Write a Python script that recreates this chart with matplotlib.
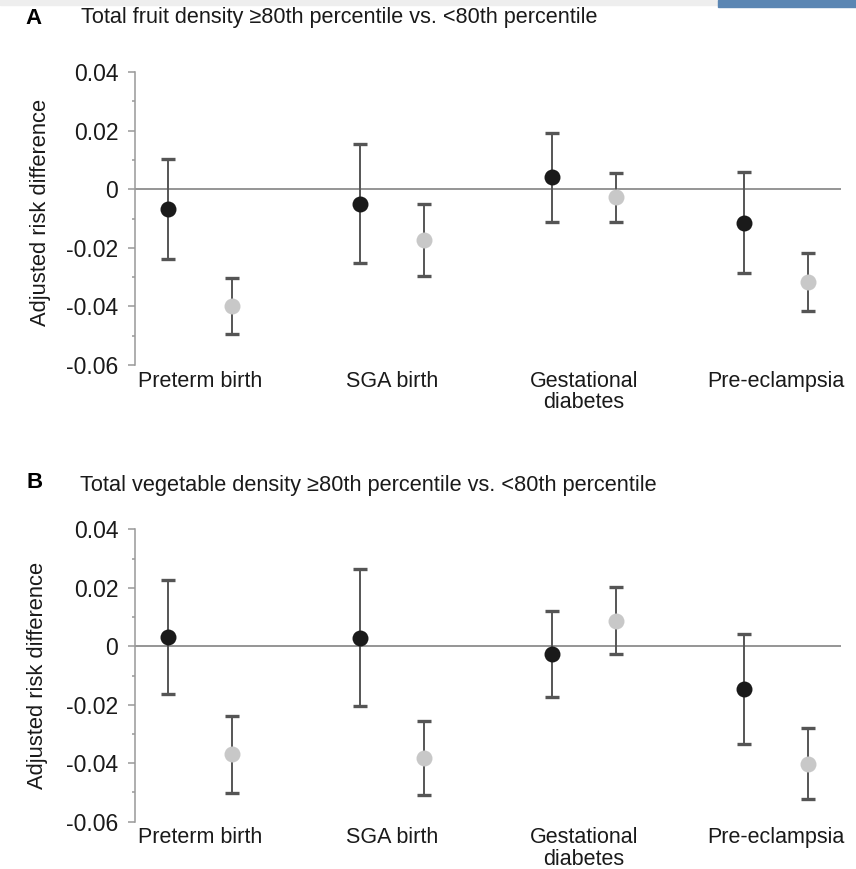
import matplotlib
matplotlib.use("Agg")
import matplotlib.pyplot as plt
import numpy as np
from matplotlib.patches import Rectangle

# outcomes on the x axis
outcomes = ["Preterm birth", "SGA birth", "Gestational\ndiabetes", "Pre-eclampsia"]

# panel A - fruit density, black points and gray points
fruit_black = [-0.0067, -0.0050, 0.0043, -0.0114]
fruit_black_low = [-0.0238, -0.0253, -0.0111, -0.0285]
fruit_black_high = [0.0104, 0.0155, 0.0191, 0.0060]
fruit_gray = [-0.0398, -0.0173, -0.0025, -0.0318]
fruit_gray_low = [-0.0493, -0.0295, -0.0111, -0.0415]
fruit_gray_high = [-0.0303, -0.0050, 0.0055, -0.0219]

# panel B - vegetable density
veg_black = [0.0031, 0.0029, -0.0026, -0.0146]
veg_black_low = [-0.0164, -0.0206, -0.0172, -0.0333]
veg_black_high = [0.0226, 0.0263, 0.0120, 0.0043]
veg_gray = [-0.0370, -0.0381, 0.0088, -0.0401]
veg_gray_low = [-0.0502, -0.0507, -0.0026, -0.0524]
veg_gray_high = [-0.0238, -0.0255, 0.0203, -0.0278]

yticks = [0.04, 0.02, 0, -0.02, -0.04, -0.06]
ytick_labels = ["0.04", "0.02", "0", "-0.02", "-0.04", "-0.06"]

plt.rcParams['font.family'] = ['Liberation Sans', 'DejaVu Sans']


def draw_points(ax, x, y, low, high, color):
    y = np.array(y)
    err = [y - np.array(low), np.array(high) - y]
    eb = ax.errorbar(x, y, yerr=err, fmt='none', ecolor='#555555',
                     elinewidth=1.4, capsize=4.8, capthick=2.4, zorder=2)
    for cap in eb[1]:
        cap.set_color('#1a1a1a')
    ax.plot(x, y, 'o', color=color, markersize=11.5, markeredgewidth=0, zorder=3)


def plot_panel(ax, black, black_low, black_high, gray, gray_low, gray_high):
    x = np.arange(len(outcomes))
    ax.axhline(0, color='#8c8c8c', lw=1.3, zorder=1)
    draw_points(ax, x - 1/6, black, black_low, black_high, '#1a1a1a')
    draw_points(ax, x + 1/6, gray, gray_low, gray_high, '#c8c8c8')
    ax.set_xlim(-0.34, 3.34)
    ax.set_ylim(-0.06, 0.04)
    ax.set_yticks(yticks)
    ax.set_yticklabels(ytick_labels, fontsize=16.5, color='#1a1a1a')
    ax.set_yticks(np.arange(-0.05, 0.04, 0.02), minor=True)
    ax.tick_params(axis='y', which='major', length=5, width=1.1, color='#999999', pad=7)
    ax.tick_params(axis='y', which='minor', length=2.5, width=1.1, color='#999999')
    ax.set_xticks(x)
    ax.set_xticklabels(outcomes, fontsize=15.5, color='#1a1a1a', linespacing=1.05)
    ax.tick_params(axis='x', length=0, pad=4)
    for s in ['top', 'right', 'bottom']:
        ax.spines[s].set_visible(False)
    ax.spines['left'].set_color('#999999')
    ax.spines['left'].set_linewidth(1.1)
    ax.spines['left'].set_bounds(-0.06, 0.04)
    ax.set_ylabel("Adjusted risk difference", fontsize=15.8, color='#1a1a1a')


fig = plt.figure(figsize=(8.56, 8.69), dpi=100)
ax1 = fig.add_axes([135/856, 1 - 365/869, 706/856, 293/869])
ax2 = fig.add_axes([135/856, 1 - 821.7/869, 706/856, 292.4/869])

plot_panel(ax1, fruit_black, fruit_black_low, fruit_black_high,
           fruit_gray, fruit_gray_low, fruit_gray_high)
plot_panel(ax2, veg_black, veg_black_low, veg_black_high,
           veg_gray, veg_gray_low, veg_gray_high)
ax1.yaxis.set_label_coords((51 - 135)/706, 0.52)
ax2.yaxis.set_label_coords((48 - 135)/706, 0.5)

# panel letters and titles
fig.text(25/856, 1 - 19/869, "A", fontsize=16, fontweight='bold', va='center')
fig.text(81/856, 1 - 18/869, "Total fruit density \u226580th percentile vs. <80th percentile",
         fontsize=15.6, va='center', color='#1a1a1a')
fig.text(27/856, 1 - 483/869, "B", fontsize=16, fontweight='bold', va='center')
fig.text(80/856, 1 - 486/869, "Total vegetable density \u226580th percentile vs. <80th percentile",
         fontsize=15.7, va='center', color='#1a1a1a')

# screenshot strip at the top
fig.patches.append(Rectangle((0, 1 - 5/869), 1, 5/869, transform=fig.transFigure,
                             color='#eeeeee', zorder=0))
fig.patches.append(Rectangle((718/856, 1 - 7/869), 138/856, 7/869, transform=fig.transFigure,
                             color='#5b86b3', zorder=1))

fig.savefig("out.png", dpi=100)
